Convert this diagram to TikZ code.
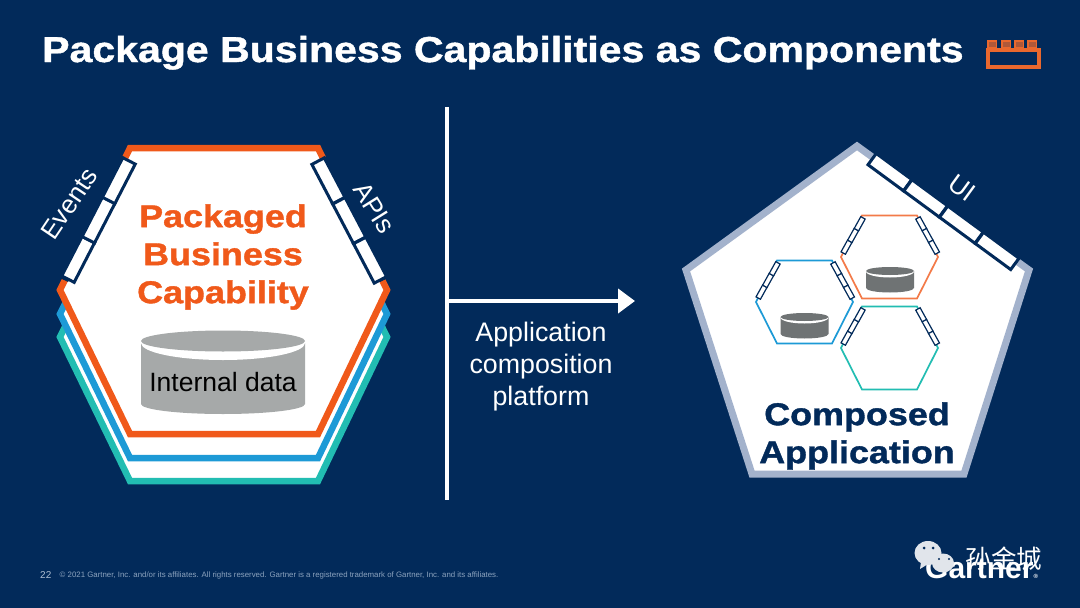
\documentclass[tikz,border=0pt]{standalone}
\usepackage{fontspec}
\usetikzlibrary{arrows.meta,positioning,calc}
\setmainfont{Liberation Sans}
\newfontfamily\widefont[FakeStretch=1.14,FakeBold=1.2]{Liberation Sans Bold}
\newfontfamily\cjkfont{Noto Sans CJK SC}
\definecolor{bg}{HTML}{022A5A}
\definecolor{org}{HTML}{F0591A}
\definecolor{brick}{HTML}{E9682E}
\definecolor{blu}{HTML}{1D9AD6}
\definecolor{teal}{HTML}{22BDB2}
\definecolor{rim}{HTML}{A3B2CC}
\definecolor{drum}{HTML}{A6A9A9}
\definecolor{drumd}{HTML}{6F7374}
\definecolor{foot}{HTML}{8CA3BE}
\tikzset{
  hexbig/.style={line width=6.5pt,fill=white,miter limit=10},
  hexsmall/.style={line width=1.7pt},
  cell/.style={draw=bg,fill=white,line width=3pt,inner sep=0pt,minimum height=14pt},
  tinycell/.style={draw=bg,fill=white,line width=1.2pt,inner sep=0pt,minimum height=5pt,minimum width=13.5pt},
  lab/.style={font=\fontsize{26}{26}\selectfont,text=white,inner sep=0pt},
  bigbold/.style={font=\widefont\fontsize{31.5}{38}\selectfont,align=center,inner sep=0pt},
  ar/.style={-{Triangle[length=17pt,width=24pt]},line width=4pt,draw=white},
}
\begin{document}
\begin{tikzpicture}[x=1pt,y=-1pt]
  \fill[bg] (0,0) rectangle (1080,608);
  \useasboundingbox (0,0) rectangle (1080,608);

  % ---- title and brick
  \node[anchor=base west,text=white,inner sep=0pt,font=\widefont\fontsize{36}{40}\selectfont] (title) at (42,62) {Package Business Capabilities as Components};
  \draw[brick,line width=4pt] (988,49.5) rectangle (1039,66.5);
  \foreach \x in {988,1002,1015,1028}
    \draw[brick,line width=1.5pt,fill=brick!75!bg] (\x,48) rectangle ++(8.5,-7);

  % ---- left: stacked hexagons
  \foreach \c/\d in {teal/47,blu/24,org/0}
    \draw[\c,hexbig,yshift=-\d pt] (130,148) -- (318,148) -- (387,290) -- (318,434) -- (130,434) -- (60,290) -- cycle;
  \coordinate (evA) at (68,279);
  \coordinate (evB) at (129,161);
  \coordinate (apA) at (318,161);
  \coordinate (apB) at (380.5,280);
  % hide the hexagon edge behind the ports
  \draw[bg,line width=9pt] (123,157) -- (64,280);
  \draw[bg,line width=9pt] (325,157) -- (384,280);
  \foreach \i in {1,2,3} {
    \node[cell,minimum width=44.5pt,rotate=62.7] (ev\i) at ($(evA)!{(\i-.5)/3}!(evB)$) {};
    \node[cell,minimum width=44.5pt,rotate=-62.3] (ap\i) at ($(apA)!{(\i-.5)/3}!(apB)$) {};
  }
  \node[lab,rotate=56] (events) at (69,204) {Events};
  \node[lab,rotate=-58] (apis) at (374.5,208) {APIs};
  \node[bigbold,text=org] (pbc) at (223,257) {Packaged\\Business\\Capability};

  % ---- drum
  \fill[drum] (141,343) -- (141,404) arc[start angle=180,end angle=0,x radius=82,y radius=10] -- (305,343) -- cycle;
  \fill[white] (223,343) ellipse[x radius=82,y radius=17];
  \fill[drum] (223,341) ellipse[x radius=82,y radius=10.5];
  \node[inner sep=0pt,font=\fontsize{26.5}{27}\selectfont,text=black] (data) at (223,382) {Internal data};

  % ---- middle
  \coordinate (vT) at (447,107);
  \coordinate (vB) at (447,500);
  \coordinate (arS) at (447,301);
  \coordinate (arE) at (635,301);
  \draw[white,line width=4pt] (vT) -- (vB);
  \draw[ar] (arS) -- (arE);
  \node[lab,align=center,font=\fontsize{26.8}{32}\selectfont] (acp) at (541,367) {Application\\composition\\platform};

  % ---- right: pentagon
  \draw[rim,line width=7pt,fill=white,miter limit=10] (857,146) -- (1029,270) -- (964,474) -- (752,474) -- (686,270) -- cycle;
  \coordinate (uiA) at (872,159);
  \coordinate (uiB) at (1015,264);
  \foreach \i in {1,...,4}
    \node[cell,minimum width=44pt,rotate=-36.3] (ui\i) at ($(uiA)!{(\i-.5)/4}!(uiB)$) {};
  \node[lab,rotate=-36] (uilab) at (962,188) {UI};
  \node[bigbold,text=bg] (capp) at (857,436) {Composed\\Application};

  % ---- small hexagons
  \foreach \n/\c/\cx/\cy in {o/org!80!white/889.5/257,b/blu/804.5/302,t/teal/889.5/348} {
    \begin{scope}[shift={(\cx,\cy)}]
      \draw[\c,hexsmall] (-27.5,-41.5) -- (27.5,-41.5) -- (48.5,0) -- (27.5,41.5) -- (-27.5,41.5) -- (-48.5,0) -- cycle;
      \foreach \i in {1,2,3} {
        \node[tinycell,rotate=61] (\n l\i) at ({-46.3+(\i-.5)*6.6},{-4+(\i-.5)*(-11.7)}) {};
        \node[tinycell,rotate=-61] (\n r\i) at ({28.5+(\i-.5)*6.4},{-39+(\i-.5)*11.7}) {};
      }
    \end{scope}
  }
  \foreach \cx/\cy in {890/268,804.5/314} {
    \begin{scope}[shift={(\cx,\cy)}]
      \fill[drumd] (-24,3) -- (-24,20) arc[start angle=180,end angle=0,x radius=24,y radius=4.5] -- (24,3) -- cycle;
      \fill[white] (0,3.5) ellipse[x radius=24,y radius=6];
      \fill[drumd] (0,3) ellipse[x radius=24,y radius=4];
    \end{scope}
  }

  % ---- footer
  \node[anchor=west,inner sep=0pt,text=foot!70!white,font=\fontsize{10}{10}\selectfont] (page) at (40,575) {22};
  \node[anchor=west,inner sep=0pt,text=foot,font=\fontsize{7.85}{8}\selectfont,right=8pt of page] (copy) {\textcopyright\ 2021 Gartner, Inc. and/or its affiliates. All rights reserved. Gartner is a registered trademark of Gartner, Inc. and its affiliates.};
  \node[anchor=base west,inner sep=0pt,text=white,font=\bfseries\fontsize{30}{30}\selectfont] (logo) at (925,578) {Gartner{\fontsize{6}{6}\selectfont ®}};

  % ---- bubbles over the logo
  \fill[white!88!bg] (928,553) ellipse[x radius=13.5,y radius=12];
  \fill[white!88!bg] (921,562) -- (920,569) -- (928,564) -- cycle;
  \fill[white!88!bg] (943,563) ellipse[x radius=11,y radius=9.5];
  \foreach \x/\y/\r in {924/548/1.5,933/548/1.5,939/559/1.2,949/559/1.2}
    \fill[bg] (\x,\y) circle[radius=\r];
  \node[inner sep=0pt,text=white,font=\cjkfont\fontsize{25.5}{26}\selectfont] (mark) at (1004,559) {孙金城};
\end{tikzpicture}
\end{document}
